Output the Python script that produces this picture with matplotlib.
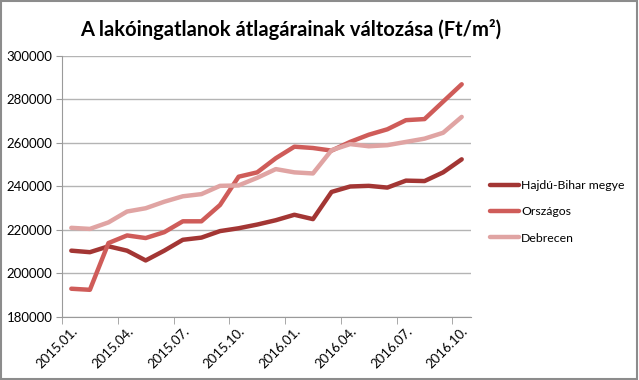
import matplotlib
matplotlib.use("Agg")
import matplotlib.pyplot as plt
import numpy as np

plt.rcParams["font.family"] = ["Lato", "DejaVu Sans"]

months = [
    "2015.01.", "2015.02.", "2015.03.", "2015.04.", "2015.05.", "2015.06.",
    "2015.07.", "2015.08.", "2015.09.", "2015.10.", "2015.11.", "2015.12.",
    "2016.01.", "2016.02.", "2016.03.", "2016.04.", "2016.05.", "2016.06.",
    "2016.07.", "2016.08.", "2016.09.", "2016.10.",
]
hajdu_bihar = [210500, 209800, 212500, 210500, 206000, 210500, 215500, 216500,
               219500, 220800, 222500, 224500, 227000, 225000, 237500, 240000,
               240300, 239500, 242700, 242500, 246500, 252500]
orszagos = [193000, 192500, 214000, 217500, 216300, 219000, 224000, 224000,
            231500, 244500, 246500, 253000, 258300, 257700, 256500, 260500,
            263800, 266300, 270500, 271000, 279000, 287000]
debrecen = [221000, 220500, 223500, 228500, 230000, 233000, 235500, 236500,
            240300, 240500, 244000, 248000, 246500, 246000, 256700, 259500,
            258500, 259000, 260500, 262000, 264700, 272000]

series = [
    ("Hajdú-Bihar megye", hajdu_bihar, "#A33634"),
    ("Országos", orszagos, "#CF5C59"),
    ("Debrecen", debrecen, "#E0A4A3"),
]

fig = plt.figure(figsize=(6.39, 3.80), dpi=100)
ax = fig.add_axes([62 / 639, 63 / 380, 409 / 639, 261 / 380])

x = np.arange(len(months))
for name, vals, color in series:
    ax.plot(x, vals, color=color, lw=3.2, label=name,
            solid_capstyle="round", solid_joinstyle="round")

ax.set_xlim(-0.5, len(months) - 0.5)
ax.set_ylim(180000, 300000)
ax.set_yticks(np.arange(180000, 300001, 20000))
ax.yaxis.grid(True, color="#B4B4B4", lw=1)
ax.set_axisbelow(True)
ax.tick_params(axis="y", length=4, color="#9A9A9A", labelsize=9.5, pad=3)

ax.set_xticks(x[::3])
ax.set_xticklabels(months[::3], rotation=45, ha="right", va="top",
                   rotation_mode="anchor")
ax.set_xticks(np.arange(-0.5, len(months) - 1, 3), minor=True)
ax.tick_params(axis="x", which="major", length=0, labelsize=9.5, pad=6)
ax.tick_params(axis="x", which="minor", length=5, color="#9A9A9A")

for side in ["top", "right"]:
    ax.spines[side].set_visible(False)
for side in ["left", "bottom"]:
    ax.spines[side].set_color("#9A9A9A")

fig.text(291 / 639, 1 - 30 / 380, "A lakóingatlanok átlagárainak változása (Ft/m²)",
         ha="center", va="center", fontsize=14.5, fontweight="bold")

ax.legend(loc="upper left", bbox_to_anchor=(490 / 639, 1 - 180 / 380),
          bbox_transform=fig.transFigure, frameon=False, fontsize=8.8,
          borderpad=0, borderaxespad=0,
          handlelength=2.4, handletextpad=0.15, labelspacing=1.25)

fig.patches.append(plt.Rectangle((0.002, 0.003), 0.995, 0.994, transform=fig.transFigure,
                                 fill=False, edgecolor="#8C8C8C", lw=1.5))

fig.savefig("out.png", dpi=100)
